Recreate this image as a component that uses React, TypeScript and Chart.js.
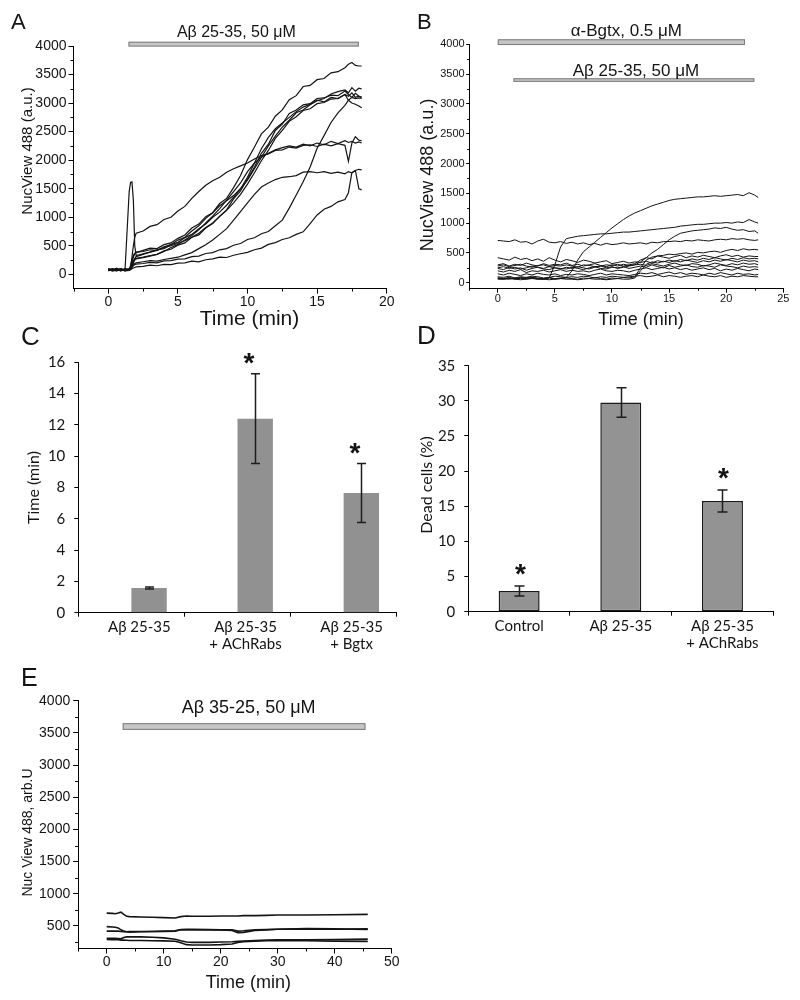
import React, { useEffect, useRef } from 'react';
import { Chart, registerables } from 'chart.js';

Chart.register(...registerables);

const ARIAL = '"Liberation Sans", Arial, sans-serif';
const CALIBRI = 'Lato, "Open Sans", "Noto Sans", sans-serif';
const AXIS_W = 52;
const AXIS_H = 50;

// ---------------- Panel A ----------------
const timeA = [0, 0.3, 0.6, 0.9, 1.2, 1.5, 1.6, 1.7, 1.8, 1.9, 2.0, 2.5, 3, 3.5, 4, 4.5, 5, 5.5, 6, 6.5, 7, 7.5, 8, 8.5, 9, 9.5, 10, 10.5, 11, 11.5, 12, 12.5, 13, 13.5, 14, 14.5, 15, 15.5, 16, 16.5, 17, 17.25, 17.5, 17.75, 18, 18.2];
const a1 = [90, 70, 100, 80, 60, 90, 150, 250, 330, 370, 380, 420, 460, 450, 520, 550, 630, 690, 810, 880, 1010, 1080, 1240, 1330, 1520, 1730, 2010, 2230, 2460, 2580, 2770, 2880, 3060, 3130, 3290, 3310, 3410, 3430, 3530, 3550, 3620, 3680, 3710, 3660, 3650, 3650];
const a2 = [80, 100, 70, 90, 80, 70, 120, 200, 300, 360, 390, 400, 430, 420, 470, 500, 540, 590, 650, 720, 820, 900, 1010, 1120, 1250, 1400, 1580, 1780, 1990, 2170, 2380, 2520, 2680, 2760, 2870, 2900, 2990, 3010, 3070, 3080, 3150, 3120, 3180, 3100, 3120, 3100];
const a3 = [70, 90, 60, 100, 70, 1450, 1610, 1620, 1300, 500, 330, 360, 390, 430, 450, 520, 560, 640, 700, 800, 880, 1000, 1090, 1210, 1350, 1500, 1650, 1850, 2050, 2250, 2420, 2580, 2700, 2830, 2880, 2970, 3040, 3080, 3160, 3200, 3230, 3180, 3270, 3210, 3260, 3250];
const a4 = [100, 80, 110, 70, 90, 80, 100, 150, 220, 280, 310, 350, 390, 420, 480, 520, 600, 650, 760, 850, 980, 1080, 1200, 1290, 1380, 1500, 1700, 1950, 2200, 2400, 2550, 2650, 2750, 2850, 2930, 2980, 3050, 3020, 3100, 3080, 3150, 3050, 3000, 2980, 2950, 2920];
const a5 = [60, 90, 80, 60, 100, 70, 90, 140, 200, 250, 280, 300, 330, 350, 410, 440, 510, 550, 650, 690, 810, 890, 1020, 1130, 1320, 1460, 1670, 1880, 2120, 2280, 2520, 2630, 2820, 2880, 2970, 2990, 3080, 3090, 3140, 3130, 3210, 3150, 3100, 3080, 3090, 3080];
const a6 = [80, 60, 90, 70, 80, 100, 120, 180, 240, 260, 270, 290, 320, 350, 400, 470, 520, 600, 680, 780, 900, 1020, 1150, 1300, 1450, 1600, 1800, 1950, 2050, 2120, 2180, 2220, 2250, 2230, 2280, 2250, 2300, 2270, 2330, 2290, 2340, 2310, 2330, 2300, 2320, 2300];
const a7 = [90, 70, 80, 60, 100, 80, 130, 300, 500, 650, 720, 760, 840, 870, 960, 1000, 1110, 1190, 1330, 1450, 1560, 1640, 1700, 1790, 1850, 1900, 1950, 2020, 2080, 2110, 2170, 2180, 2230, 2210, 2260, 2270, 2240, 2280, 2250, 2290, 2260, 1980, 2300, 2410, 2350, 2340];
const a8 = [70, 80, 60, 90, 70, 80, 90, 120, 160, 190, 200, 220, 240, 230, 260, 280, 300, 340, 380, 450, 520, 600, 700, 800, 950, 1100, 1250, 1400, 1530, 1600, 1660, 1700, 1710, 1730, 1790, 1800, 1780, 1800, 1770, 1790, 1760, 1800, 1780, 1820, 1500, 1480];
const a9 = [90, 70, 80, 100, 70, 90, 100, 130, 150, 170, 180, 190, 210, 200, 235, 240, 265, 270, 310, 320, 365, 380, 430, 450, 510, 540, 610, 640, 710, 750, 850, 950, 1160, 1390, 1620, 1880, 2210, 2430, 2660, 2830, 2960, 3050, 3100, 3170, 3120, 3100];
const a10 = [80, 60, 70, 90, 60, 70, 80, 100, 110, 120, 130, 140, 160, 150, 175, 170, 195, 200, 230, 220, 255, 270, 300, 295, 335, 360, 385, 430, 460, 525, 555, 610, 640, 700, 745, 890, 1040, 1140, 1190, 1270, 1310, 1430, 1780, 1820, 1840, 1830];
const tracesA = [a1, a2, a3, a4, a5, a6, a7, a8, a9, a10];
const xTicksA = [0, 5, 10, 15, 20];
const yTicksA = [0, 500, 1000, 1500, 2000, 2500, 3000, 3500, 4000];
const minorXA = [-2.5, 2.5, 7.5, 12.5, 17.5];
const minorYA = [250, 750, 1250, 1750, 2250, 2750, 3250, 3750];

// ---------------- Panel B ----------------
const timeB = [0, 0.5, 1, 1.5, 2, 2.5, 3, 3.5, 4, 4.5, 5, 5.5, 6, 6.5, 7, 7.5, 8, 8.5, 9, 9.5, 10, 10.5, 11, 11.5, 12, 12.5, 13, 13.5, 14, 14.5, 15, 15.5, 16, 16.5, 17, 17.5, 18, 18.5, 19, 19.5, 20, 20.5, 21, 21.5, 22, 22.5, 22.8];
const b1 = [80, 70, 90, 60, 80, 70, 90, 80, 60, 90, 70, 80, 90, 200, 380, 520, 600, 680, 760, 840, 920, 990, 1060, 1120, 1170, 1210, 1250, 1290, 1320, 1350, 1380, 1400, 1410, 1420, 1430, 1440, 1440, 1450, 1460, 1450, 1460, 1470, 1480, 1460, 1510, 1470, 1430];
const b2 = [70, 60, 80, 70, 90, 60, 80, 70, 60, 80, 300, 600, 740, 760, 780, 790, 800, 810, 820, 820, 830, 840, 850, 850, 860, 870, 880, 890, 900, 910, 920, 930, 950, 960, 970, 980, 980, 990, 1000, 1000, 1010, 1000, 1020, 1010, 1060, 1020, 1000];
const b3 = [710, 700, 690, 720, 680, 690, 650, 700, 730, 680, 670, 690, 660, 680, 650, 670, 640, 660, 630, 660, 640, 650, 670, 650, 660, 670, 650, 680, 670, 690, 690, 700, 690, 710, 700, 720, 710, 700, 720, 730, 720, 740, 730, 740, 720, 710, 720];
const b4 = [250, 270, 240, 260, 230, 250, 280, 260, 240, 270, 250, 230, 260, 240, 270, 250, 230, 260, 280, 250, 270, 240, 260, 280, 300, 350, 420, 500, 560, 640, 720, 780, 830, 850, 870, 880, 890, 900, 920, 910, 930, 900, 880, 890, 860, 870, 830];
const b5 = [80, 70, 60, 80, 70, 90, 80, 60, 70, 80, 60, 70, 80, 70, 60, 80, 70, 90, 70, 60, 80, 70, 90, 80, 100, 250, 380, 430, 450, 460, 480, 470, 490, 500, 480, 510, 500, 520, 530, 510, 540, 560, 540, 570, 550, 560, 550];
const b6 = [420, 400, 380, 430, 390, 410, 370, 400, 360, 420, 380, 350, 390, 370, 340, 380, 360, 330, 350, 370, 320, 340, 360, 330, 350, 340, 360, 330, 370, 350, 380, 360, 390, 370, 400, 380, 410, 390, 420, 400, 380, 410, 390, 420, 400, 410, 400];
const b7 = [300, 320, 280, 310, 290, 330, 300, 280, 320, 290, 310, 300, 330, 290, 310, 280, 300, 320, 290, 270, 300, 280, 310, 290, 300, 310, 290, 320, 300, 280, 310, 330, 300, 290, 320, 310, 280, 300, 330, 310, 290, 320, 300, 330, 310, 320, 300];
const b8 = [240, 220, 260, 230, 250, 210, 240, 260, 230, 220, 250, 240, 230, 260, 240, 220, 250, 270, 240, 230, 260, 250, 270, 240, 260, 280, 260, 300, 270, 250, 290, 260, 280, 300, 270, 260, 290, 280, 260, 300, 280, 270, 250, 280, 260, 270, 260];
const b9 = [200, 180, 210, 190, 220, 170, 200, 190, 210, 180, 200, 220, 190, 210, 190, 200, 180, 210, 230, 200, 190, 210, 200, 180, 210, 230, 250, 220, 240, 260, 230, 250, 220, 240, 210, 230, 250, 220, 240, 200, 230, 210, 240, 220, 200, 230, 220];
const b10 = [60, 60, 70, 60, 50, 60, 70, 60, 60, 50, 60, 70, 60, 60, 50, 60, 70, 60, 60, 50, 60, 70, 60, 60, 80, 200, 310, 350, 330, 360, 340, 370, 350, 380, 360, 340, 370, 350, 380, 360, 390, 370, 350, 380, 360, 370, 350];
const b11 = [150, 130, 160, 140, 120, 150, 130, 160, 140, 130, 150, 120, 140, 130, 150, 140, 120, 140, 160, 130, 150, 140, 130, 120, 140, 160, 150, 170, 140, 160, 180, 150, 170, 140, 160, 150, 130, 160, 140, 170, 150, 130, 160, 140, 150, 130, 140];
const b12 = [100, 90, 110, 80, 100, 90, 110, 100, 80, 90, 110, 100, 90, 100, 90, 110, 100, 80, 100, 90, 110, 100, 90, 100, 110, 120, 100, 110, 130, 100, 120, 110, 90, 110, 120, 100, 130, 110, 100, 120, 90, 110, 100, 120, 110, 100, 100];
const b13 = [280, 300, 270, 290, 310, 280, 260, 290, 300, 270, 290, 280, 300, 280, 260, 300, 290, 270, 280, 300, 290, 310, 280, 300, 320, 380, 420, 400, 450, 430, 410, 440, 460, 420, 450, 430, 460, 440, 420, 450, 470, 440, 460, 430, 450, 440, 440];
const tracesB = [b1, b2, b3, b4, b5, b6, b7, b8, b9, b10, b11, b12, b13];
const xTicksB = [0, 5, 10, 15, 20, 25];
const yTicksB = [0, 500, 1000, 1500, 2000, 2500, 3000, 3500, 4000];
const minorXB = [-2.5, 2.5, 7.5, 12.5, 17.5, 22.5];
const minorYB = [250, 750, 1250, 1750, 2250, 2750, 3250, 3750];

// ---------------- Panel C ----------------
const categoriesC = ['Aβ 25-35', ['Aβ 25-35', '+ AChRabs'], ['Aβ 25-35', '+ Bgtx']];
const emptySeriesC = [null, null, null];
const timeToRiseC = [1.58, 12.4, 7.65];
const errC = [0.07, 2.87, 1.88];
const starsC = [false, true, true];
const yTicksC = [0, 2, 4, 6, 8, 10, 12, 14, 16];

// ---------------- Panel D ----------------
const categoriesD = ['Control', 'Aβ 25-35', ['Aβ 25-35', '+ AChRabs']];
const deadCellsD = [2.95, 29.75, 15.75];
const errD = [0.7, 2.1, 1.55];
const starsD = [true, false, true];
const yTicksD = [0, 5, 10, 15, 20, 25, 30, 35];

// ---------------- Panel E ----------------
const timeE = [0, 1, 1.5, 2, 2.5, 3, 3.5, 4, 6, 8, 10, 12, 13, 14, 15, 18, 20, 22, 23, 24, 26, 28, 30, 35, 40, 45.8];
const e1 = [700, 695, 690, 700, 715, 680, 650, 645, 640, 635, 630, 625, 645, 655, 650, 650, 655, 655, 655, 660, 660, 665, 670, 670, 675, 680];
const e2 = [490, 485, 480, 470, 440, 420, 410, 405, 410, 415, 415, 420, 440, 440, 440, 440, 440, 430, 395, 400, 430, 440, 450, 455, 450, 455];
const e3 = [420, 420, 420, 420, 415, 410, 410, 415, 415, 415, 420, 425, 445, 450, 450, 445, 440, 440, 420, 425, 440, 445, 450, 460, 455, 445];
const e4 = [310, 310, 310, 305, 300, 320, 330, 330, 330, 325, 315, 295, 270, 250, 245, 245, 250, 255, 260, 265, 275, 280, 285, 285, 290, 295];
const e5 = [290, 285, 285, 285, 280, 280, 278, 275, 275, 270, 268, 262, 240, 210, 205, 205, 210, 220, 245, 255, 265, 270, 275, 270, 265, 260];
const tracesE = [e1, e2, e3, e4, e5];
const xTicksE = [0, 10, 20, 30, 40, 50];
const yTicksE = [500, 1000, 1500, 2000, 2500, 3000, 3500, 4000];
const minorXE = [-5, 5, 15, 25, 35, 45];
const minorYE = [250, 750, 1250, 1750, 2250, 2750, 3250, 3750];

// ---------------- drawing helpers ----------------
function makeDecor(spec: any) {
  return {
    id: 'decor',
    afterDraw(chart: any) {
      const ctx = chart.ctx;
      const ca = chart.chartArea;
      const xs = chart.scales.x;
      const ys = chart.scales.y;
      ctx.save();
      ctx.strokeStyle = '#000';
      ctx.lineWidth = 1;
      const ml = spec.minorLen || 3;
      (spec.minorX || []).forEach((v: number) => {
        const p = Math.round(xs.getPixelForValue(v)) + 0.5;
        ctx.beginPath();
        ctx.moveTo(p, ca.bottom);
        ctx.lineTo(p, ca.bottom + ml);
        ctx.stroke();
      });
      (spec.minorY || []).forEach((v: number) => {
        const p = Math.round(ys.getPixelForValue(v)) + 0.5;
        ctx.beginPath();
        ctx.moveTo(ca.left - ml, p);
        ctx.lineTo(ca.left, p);
        ctx.stroke();
      });
      (spec.bars || []).forEach((b: any) => {
        const x0 = xs.getPixelForValue(b.start);
        const x1 = xs.getPixelForValue(b.end);
        const y0 = ys.getPixelForValue(b.high);
        const y1 = ys.getPixelForValue(b.low);
        ctx.fillStyle = '#c6c6c6';
        ctx.fillRect(x0, y0, x1 - x0, y1 - y0);
        ctx.strokeStyle = '#7c7c7c';
        ctx.lineWidth = 1;
        ctx.strokeRect(x0 + 0.5, y0 + 0.5, x1 - x0 - 1, Math.max(y1 - y0 - 1, 1));
        ctx.fillStyle = '#141414';
        ctx.font = b.font;
        ctx.textAlign = 'center';
        ctx.textBaseline = 'alphabetic';
        ctx.fillText(b.label, xs.getPixelForValue(b.labelAt), b.labelY);
      });
      if (spec.err) {
        const e = spec.err;
        const meta = chart.getDatasetMeta(e.dataset);
        const vals = chart.data.datasets[e.dataset].data;
        meta.data.forEach((el: any, i: number) => {
          const v = vals[i];
          const d = e.errors[i];
          const x = Math.round(el.x) + 0.5;
          const yt = ys.getPixelForValue(v + d);
          const yb = ys.getPixelForValue(v - d);
          ctx.strokeStyle = '#1e1e1e';
          ctx.lineWidth = 1.5;
          ctx.beginPath();
          ctx.moveTo(x, yt);
          ctx.lineTo(x, yb);
          ctx.moveTo(x - e.cap, yt);
          ctx.lineTo(x + e.cap, yt);
          ctx.moveTo(x - e.cap, yb);
          ctx.lineTo(x + e.cap, yb);
          ctx.stroke();
          if (e.stars[i]) {
            ctx.font = e.starFont;
            ctx.fillStyle = '#141414';
            ctx.textAlign = 'center';
            ctx.textBaseline = 'alphabetic';
            const m = ctx.measureText('*');
            const desc = m.actualBoundingBoxDescent || 0;
            ctx.fillText('*', x + e.starDx, yt - e.starGap - desc);
          }
        });
      }
      (spec.texts || []).forEach((t: any) => {
        ctx.fillStyle = '#141414';
        ctx.font = t.font;
        if (t.rotate) {
          ctx.save();
          ctx.translate(t.x, t.y);
          ctx.rotate(-Math.PI / 2);
          ctx.textAlign = 'center';
          ctx.textBaseline = 'middle';
          ctx.fillText(t.text, 0, 0);
          ctx.restore();
        } else {
          ctx.textAlign = t.align || 'center';
          ctx.textBaseline = 'alphabetic';
          ctx.fillText(t.text, t.x, t.y);
        }
      });
      ctx.restore();
    },
  };
}

function paddingFor(area: any) {
  return {
    left: area.left - AXIS_W,
    right: 800 - area.right,
    top: area.top,
    bottom: 1000 - area.bottom - AXIS_H,
  };
}

function lineConfig(p: any) {
  const datasets = p.series.map((vals: number[]) => ({
    data: p.times.map((t: number, i: number) => ({ x: t, y: vals[i] })),
    borderColor: '#141414',
    borderWidth: p.lineWidth,
    pointRadius: 0,
    fill: false,
    tension: 0,
  }));
  const gridX = { display: true, drawOnChartArea: false, drawTicks: true, tickLength: p.tlX, color: '#000', lineWidth: 1 };
  const gridY = { display: true, drawOnChartArea: false, drawTicks: true, tickLength: p.tlY, color: '#000', lineWidth: 1 };
  return {
    type: 'line',
    data: { datasets },
    options: {
      animation: false,
      responsive: false,
      devicePixelRatio: 1,
      events: [],
      layout: { padding: paddingFor(p.area) },
      plugins: { legend: { display: false }, tooltip: { enabled: false }, title: { display: false } },
      scales: {
        x: {
          type: 'linear',
          min: p.xMin,
          max: p.xMax,
          afterBuildTicks: (s: any) => { s.ticks = p.xTicks.map((v: number) => ({ value: v })); },
          afterFit: (s: any) => { s.height = AXIS_H; },
          grid: gridX,
          border: { display: true, color: '#000', width: 1 },
          ticks: { font: { family: ARIAL, size: p.tickSize }, color: '#141414', padding: p.padX, maxRotation: 0, autoSkip: false, callback: (v: any) => String(v) },
        },
        y: {
          type: 'linear',
          min: p.yMin,
          max: p.yMax,
          afterBuildTicks: (s: any) => { s.ticks = p.yTicks.map((v: number) => ({ value: v })); },
          afterFit: (s: any) => { s.width = AXIS_W; },
          grid: gridY,
          border: { display: true, color: '#000', width: 1 },
          ticks: { font: { family: ARIAL, size: p.tickSize }, color: '#141414', padding: p.padY, autoSkip: false, callback: (v: any) => String(v) },
        },
      },
    },
    plugins: [makeDecor(p.decor)],
  };
}

function barConfig(p: any) {
  return {
    type: 'bar',
    data: { labels: p.labels, datasets: p.datasets },
    options: {
      animation: false,
      responsive: false,
      devicePixelRatio: 1,
      events: [],
      layout: { padding: paddingFor(p.area) },
      plugins: { legend: { display: false }, tooltip: { enabled: false }, title: { display: false } },
      scales: {
        x: {
          type: 'category',
          offset: true,
          afterFit: (s: any) => { s.height = AXIS_H; },
          grid: { display: true, offset: true, drawOnChartArea: false, drawTicks: true, tickLength: 4, color: '#000', lineWidth: 1 },
          border: { display: true, color: '#000', width: 1 },
          ticks: { font: { family: CALIBRI, size: 15, lineHeight: 1.13 }, color: '#141414', padding: 2, labelOffset: p.labelOffset, maxRotation: 0, autoSkip: false },
        },
        y: {
          type: 'linear',
          min: 0,
          max: p.yMax,
          afterBuildTicks: (s: any) => { s.ticks = p.yTicks.map((v: number) => ({ value: v })); },
          afterFit: (s: any) => { s.width = AXIS_W; },
          grid: { display: true, drawOnChartArea: false, drawTicks: true, tickLength: 4, color: '#000', lineWidth: 1 },
          border: { display: true, color: '#000', width: 1 },
          ticks: { font: { family: CALIBRI, size: 15 }, color: '#141414', padding: 9, autoSkip: false, callback: (v: any) => String(v) },
        },
      },
    },
    plugins: [makeDecor(p.decor)],
  };
}

const configA = () => lineConfig({
  times: timeA, series: tracesA, lineWidth: 1.2,
  area: { left: 73.5, right: 386.7, top: 46, bottom: 288.6 },
  xMin: -2.5, xMax: 20, yMin: -250, yMax: 4000,
  xTicks: xTicksA, yTicks: yTicksA, tlX: 5, tlY: 5, tickSize: 14, padX: 0, padY: 2,
  decor: {
    minorX: minorXA, minorY: minorYA, minorLen: 3,
    bars: [{ label: 'Aβ 25-35, 50 μM', start: 1.45, end: 18.0, low: 3990, high: 4075, labelAt: 9.2, labelY: 37, font: `16px ${ARIAL}` }],
    texts: [
      { text: 'A', x: 11, y: 28.5, font: `22px ${ARIAL}`, align: 'left' },
      { text: 'NucView 488 (a.u.)', x: 28, y: 151, font: `15px ${ARIAL}`, rotate: true },
      { text: 'Time (min)', x: 249.5, y: 325, font: `21px ${ARIAL}` },
    ],
  },
});

const configB = () => lineConfig({
  times: timeB, series: tracesB, lineWidth: 1,
  area: { left: 469.2, right: 783.3, top: 44.3, bottom: 288.7 },
  xMin: -2.5, xMax: 25, yMin: -100, yMax: 4000,
  xTicks: xTicksB, yTicks: yTicksB, tlX: 4, tlY: 3, tickSize: 11, padX: 0, padY: 1.5,
  decor: {
    minorX: minorXB, minorY: minorYB, minorLen: 2,
    bars: [
      { label: 'α-Bgtx, 0.5 μM', start: 0, end: 21.65, low: 3988, high: 4084, labelAt: 11.26, labelY: 35.5, font: `17px ${ARIAL}` },
      { label: 'Aβ 25-35, 50 μM', start: 1.37, end: 22.47, low: 3370, high: 3430, labelAt: 12.1, labelY: 75.5, font: `17px ${ARIAL}` },
    ],
    texts: [
      { text: 'B', x: 417, y: 28.5, font: `22px ${ARIAL}`, align: 'left' },
      { text: 'NucView 488 (a.u.)', x: 428, y: 175, font: `18px ${ARIAL}`, rotate: true },
      { text: 'Time (min)', x: 641, y: 325, font: `18px ${ARIAL}` },
    ],
  },
});

const configC = () => barConfig({
  labels: categoriesC,
  datasets: [
    { data: emptySeriesC, backgroundColor: 'rgba(0,0,0,0)', categoryPercentage: 0.667, barPercentage: 1 },
    { data: timeToRiseC, backgroundColor: '#919191', categoryPercentage: 0.667, barPercentage: 1 },
  ],
  area: { left: 78.3, right: 396.7, top: 362.3, bottom: 612.7 },
  yMax: 16, yTicks: yTicksC, labelOffset: 8,
  decor: {
    err: { dataset: 1, errors: errC, stars: starsC, cap: 4.5, starDx: -6.5, starGap: 10, starFont: `bold 28px ${ARIAL}` },
    texts: [
      { text: 'C', x: 21, y: 345, font: `26px ${ARIAL}`, align: 'left' },
      { text: 'Time (min)', x: 34, y: 487.5, font: `16px ${CALIBRI}`, rotate: true },
    ],
  },
});

const configD = () => barConfig({
  labels: categoriesD,
  datasets: [
    { data: deadCellsD, backgroundColor: '#939393', borderColor: '#1a1a1a', borderWidth: 1.5, borderSkipped: false, categoryPercentage: 1, barPercentage: 0.403 },
  ],
  area: { left: 468.3, right: 773.3, top: 365.7, bottom: 611.7 },
  yMax: 35, yTicks: yTicksD, labelOffset: 0,
  decor: {
    err: { dataset: 0, errors: errD, stars: starsD, cap: 5, starDx: 1, starGap: 11, starFont: `bold 28px ${ARIAL}` },
    texts: [
      { text: 'D', x: 417, y: 344, font: `26px ${ARIAL}`, align: 'left' },
      { text: 'Dead cells (%)', x: 426.7, y: 485, font: `16px ${CALIBRI}`, rotate: true },
    ],
  },
});

const configE = () => lineConfig({
  times: timeE, series: tracesE, lineWidth: 1.6,
  area: { left: 78.2, right: 391.7, top: 700.7, bottom: 948.5 },
  xMin: -5, xMax: 50, yMin: 150, yMax: 4000,
  xTicks: xTicksE, yTicks: yTicksE, tlX: 5, tlY: 5, tickSize: 14, padX: 0, padY: 3,
  decor: {
    minorX: minorXE, minorY: minorYE, minorLen: 3,
    bars: [{ label: 'Aβ 35-25, 50 μM', start: 2.8, end: 45.4, low: 3547, high: 3651, labelAt: 24.9, labelY: 713, font: `18px ${ARIAL}` }],
    texts: [
      { text: 'E', x: 21, y: 686, font: `25px ${ARIAL}`, align: 'left' },
      { text: 'Nuc View 488, arb.U', x: 28, y: 832.5, font: `14px ${ARIAL}`, rotate: true },
      { text: 'Time (min)', x: 248.3, y: 988, font: `18px ${ARIAL}` },
    ],
  },
});

function Panel({ make }: { make: () => any }) {
  const ref = useRef<HTMLCanvasElement>(null);
  useEffect(() => {
    const chart = new Chart(ref.current as HTMLCanvasElement, make());
    return () => chart.destroy();
  }, [make]);
  return (
    <canvas
      ref={ref}
      width={800}
      height={1000}
      style={{ position: 'absolute', left: 0, top: 0, width: 800, height: 1000 }}
    />
  );
}

export default function App() {
  return (
    <div style={{ position: 'absolute', left: 0, top: 0, width: 800, height: 1000, background: '#fff', overflow: 'hidden' }}>
      <Panel make={configA} />
      <Panel make={configB} />
      <Panel make={configC} />
      <Panel make={configD} />
      <Panel make={configE} />
    </div>
  );
}
